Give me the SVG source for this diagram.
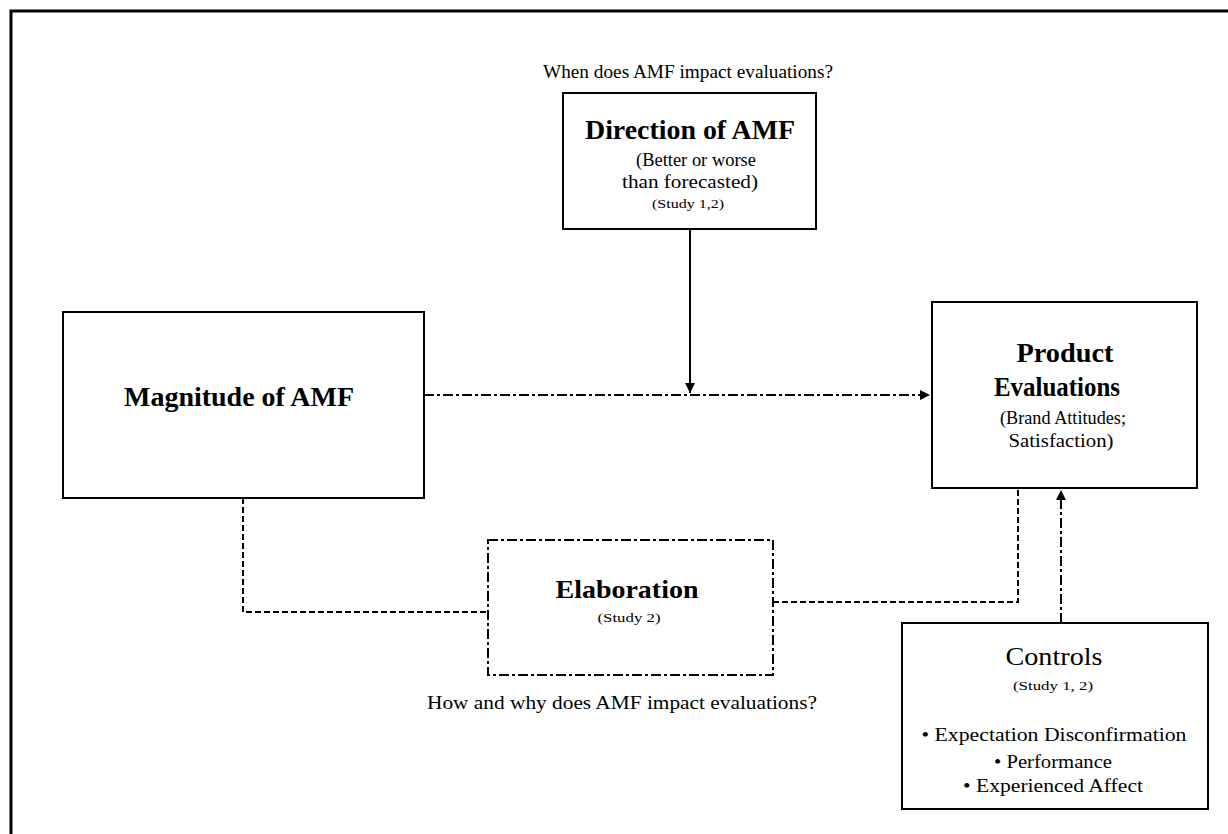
<svg xmlns="http://www.w3.org/2000/svg" width="1228" height="834" viewBox="0 0 1228 834">
<style>
text{font-family:"Liberation Serif","DejaVu Serif",serif;fill:#000;text-anchor:middle}
.b{font-weight:bold;font-size:27px}
.m{font-size:19px}
.s{font-size:13px}
.box{fill:#fff;stroke:#000;stroke-width:2}
.dd{fill:none;stroke:#000;stroke-width:2;stroke-dasharray:10 3 3 3}
.da{fill:none;stroke:#000;stroke-width:2;stroke-dasharray:6 3}
.so{fill:none;stroke:#000;stroke-width:2}
</style>
<defs>
<marker id="ah" viewBox="0 0 10 10" refX="10" refY="5" markerWidth="5" markerHeight="5" orient="auto" markerUnits="strokeWidth">
<path d="M0,0 L10,5 L0,10 z" fill="#000"/>
</marker>
</defs>
<rect width="1228" height="834" fill="#fff"/>
<path d="M11,834 V11 H1228" fill="none" stroke="#000" stroke-width="3"/>
<g id="connectors">
<path class="dd" d="M424,395 H930" marker-end="url(#ah)"/>
<path class="so" d="M690,229 V393" marker-end="url(#ah)"/>
<path class="da" d="M243,498 V612 H488"/>
<path class="da" d="M773,602 H1018 V488"/>
<path class="dd" d="M1061,623 V490" marker-end="url(#ah)"/>
</g>
<text class="m" x="688" y="78" textLength="290" lengthAdjust="spacingAndGlyphs">When does AMF impact evaluations?</text>
<g id="direction">
<rect class="box" x="563" y="93" width="253" height="136"/>
<text class="b" x="690" y="139" textLength="210" lengthAdjust="spacingAndGlyphs">Direction of AMF</text>
<text class="m" x="696" y="166" textLength="120" lengthAdjust="spacingAndGlyphs">(Better or worse</text>
<text class="m" x="690" y="188" textLength="136" lengthAdjust="spacingAndGlyphs">than forecasted)</text>
<text class="s" x="688" y="208" textLength="72" lengthAdjust="spacingAndGlyphs">(Study 1,2)</text>
</g>
<g id="magnitude">
<rect class="box" x="63" y="312" width="361" height="186"/>
<text class="b" x="239" y="406" textLength="230" lengthAdjust="spacingAndGlyphs" style="font-size:28px">Magnitude of AMF</text>
</g>
<g id="product">
<rect class="box" x="932" y="302" width="265" height="186"/>
<text class="b" x="1065" y="362" textLength="97" lengthAdjust="spacingAndGlyphs">Product</text>
<text class="b" x="1057" y="396" textLength="126" lengthAdjust="spacingAndGlyphs">Evaluations</text>
<text class="m" x="1063" y="424" textLength="126" lengthAdjust="spacingAndGlyphs">(Brand Attitudes;</text>
<text class="m" x="1061" y="447" textLength="105" lengthAdjust="spacingAndGlyphs">Satisfaction)</text>
</g>
<g id="elaboration">
<rect class="dd" x="488" y="540" width="285" height="135"/>
<text class="b" x="627" y="598" textLength="143" lengthAdjust="spacingAndGlyphs" style="font-size:26px">Elaboration</text>
<text class="s" x="629" y="622" textLength="63" lengthAdjust="spacingAndGlyphs">(Study 2)</text>
</g>
<text class="m" x="622" y="709" textLength="390" lengthAdjust="spacingAndGlyphs">How and why does AMF impact evaluations?</text>
<g id="controls">
<rect class="box" x="902" y="623" width="306" height="186"/>
<text x="1054" y="665" textLength="97" lengthAdjust="spacingAndGlyphs" style="font-size:26px">Controls</text>
<text class="s" x="1053" y="690" textLength="80" lengthAdjust="spacingAndGlyphs">(Study 1, 2)</text>
<text class="m" x="1054" y="741" textLength="265" lengthAdjust="spacingAndGlyphs">• Expectation Disconfirmation</text>
<text class="m" x="1053" y="768" textLength="118" lengthAdjust="spacingAndGlyphs">• Performance</text>
<text class="m" x="1053" y="792" textLength="180" lengthAdjust="spacingAndGlyphs">• Experienced Affect</text>
</g>
</svg>
